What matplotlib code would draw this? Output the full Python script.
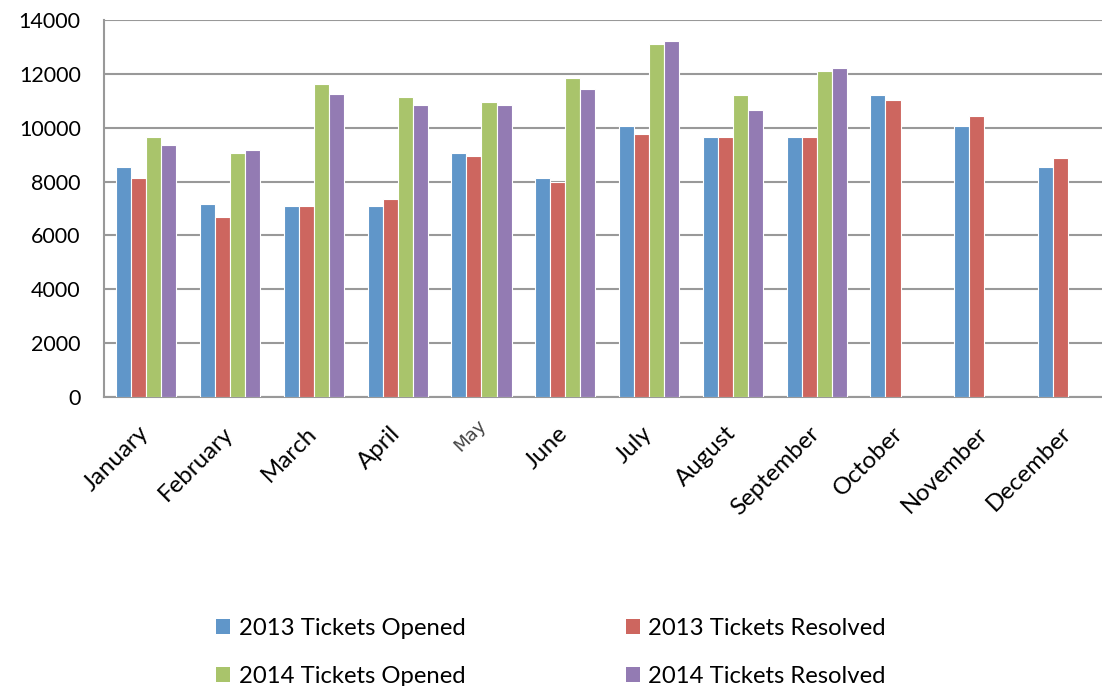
import matplotlib
matplotlib.use("Agg")
import matplotlib.pyplot as plt
import matplotlib.transforms as mtransforms
import numpy as np
from matplotlib.patches import Patch

months = ["January", "February", "March", "April", "May", "June", "July",
          "August", "September", "October", "November", "December"]
opened_2013 = [8550, 7170, 7080, 7080, 9050, 8150, 10050, 9650, 9650, 11230, 10050, 8550]
resolved_2013 = [8150, 6680, 7080, 7370, 8950, 7970, 9750, 9650, 9650, 11030, 10440, 8860]
opened_2014 = [9650, 9050, 11630, 11130, 10950, 11830, 13120, 11230, 12120]
resolved_2014 = [9350, 9170, 11240, 10830, 10830, 11430, 13210, 10640, 12220]
series_names = ["2013 Tickets Opened", "2013 Tickets Resolved",
                "2014 Tickets Opened", "2014 Tickets Resolved"]
colors = ["#6096C9", "#CD665F", "#A9C46B", "#937BB3"]
yticks = [0, 2000, 4000, 6000, 8000, 10000, 12000, 14000]

plt.rcParams['font.family'] = ['Lato', 'DejaVu Sans']

fig = plt.figure(figsize=(11.02, 6.86), dpi=100)
ax = fig.add_axes([0.0947, 0.4213, 0.9126, 0.5496])

x = np.arange(len(months))
w = 0.18
data = [opened_2013, resolved_2013, opened_2014, resolved_2014]
for i, (vals, c) in enumerate(zip(data, colors)):
    xi = x[:len(vals)] + (i - 1.5) * w
    ax.bar(xi, vals, width=w, color=c, edgecolor="white", linewidth=0.8, zorder=3)

ax.set_xlim(-0.5, len(months) - 0.5)
ax.set_ylim(0, 14000)
ax.set_yticks(yticks)
ax.set_yticklabels([str(v) for v in yticks], fontsize=15.5)
ax.yaxis.grid(True, color="#999999", linewidth=1.5, zorder=0)
ax.tick_params(axis="y", length=0, pad=17)
ax.tick_params(axis="x", length=0, pad=4)
ax.set_xticks(x)
ax.set_xticklabels(months, rotation=45, ha="right", rotation_mode="anchor", fontsize=17.3)
offset = mtransforms.ScaledTranslation(-8 / 100, -20 / 100, fig.dpi_scale_trans)
may_offset = mtransforms.ScaledTranslation(-5 / 100, -13 / 100, fig.dpi_scale_trans)
for lbl in ax.get_xticklabels():
    if lbl.get_text() == "May":
        lbl.set_transform(lbl.get_transform() + may_offset)
        lbl.set_fontfamily("DejaVu Sans")
        lbl.set_fontsize(13)
        lbl.set_color("#444444")
    else:
        lbl.set_transform(lbl.get_transform() + offset)
for s in ["top", "right"]:
    ax.spines[s].set_visible(False)
for s in ["left", "bottom"]:
    ax.spines[s].set_color("#999999")
    ax.spines[s].set_linewidth(1.5)

handles = [Patch(facecolor=c, edgecolor="none") for c in colors]
order = [0, 2, 1, 3]
fig.legend([handles[i] for i in order], [series_names[i] for i in order],
           ncol=2, loc="center", bbox_to_anchor=(0.5, 0.049), frameon=False,
           fontsize=17.2, handlelength=0.59, handleheight=0.59, handletextpad=0.35,
           columnspacing=6.7, labelspacing=1.15)

fig.savefig("out.png", dpi=100)
